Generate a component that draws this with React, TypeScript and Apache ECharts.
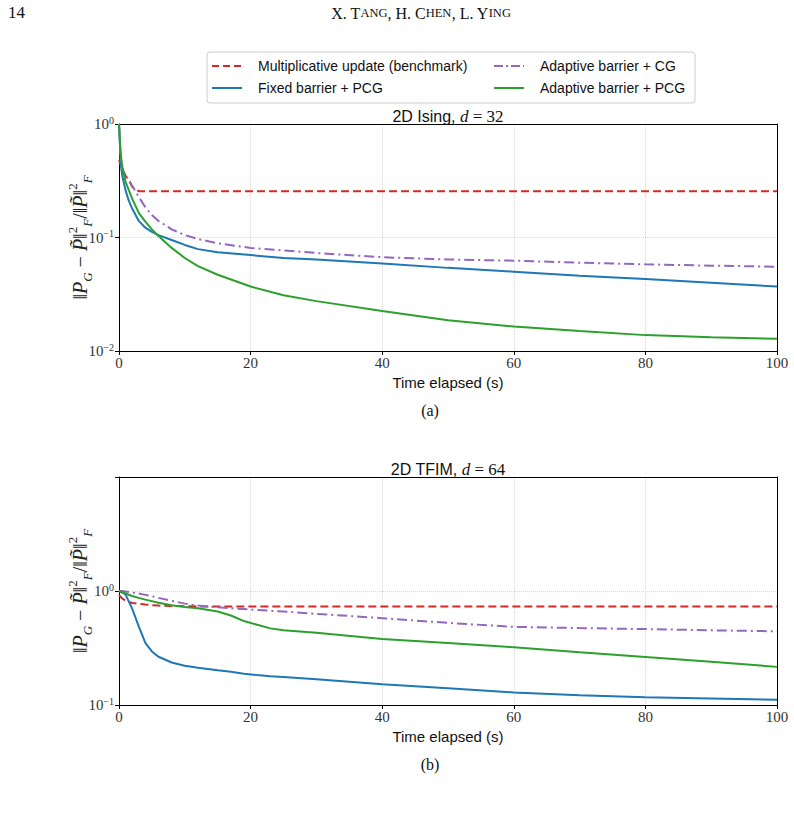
import React, { useEffect, useRef } from "react";
import * as echarts from "echarts";

const SERIF = '"Liberation Serif", "DejaVu Serif", serif';
const SANS = '"Liberation Sans", "DejaVu Sans", sans-serif';

// Series names (legend order)
const seriesNames = [
  "Multiplicative update (benchmark)",
  "Fixed barrier + PCG",
  "Adaptive barrier + CG",
  "Adaptive barrier + PCG",
];

// (a) 2D Ising, d = 32
const isingTime = [0, 0.25, 0.5, 1, 1.5, 2, 3, 4, 5, 6, 8, 10, 12, 15, 20, 25, 30, 40, 50, 60, 70, 80, 90, 100];
const isingMU = [0.48, 0.44, 0.4, 0.35, 0.32, 0.28, 0.256, 0.256, 0.256, 0.256, 0.256, 0.256, 0.256, 0.256, 0.256, 0.256, 0.256, 0.256, 0.256, 0.256, 0.256, 0.256, 0.256, 0.256];
const isingFixedPCG = [1.0, 0.45, 0.35, 0.26, 0.21, 0.18, 0.14, 0.122, 0.112, 0.105, 0.095, 0.086, 0.079, 0.074, 0.07, 0.066, 0.064, 0.059, 0.054, 0.05, 0.046, 0.043, 0.04, 0.037];
const isingAdaptiveCG = [1.0, 0.5, 0.4, 0.35, 0.32, 0.285, 0.228, 0.185, 0.158, 0.14, 0.118, 0.105, 0.097, 0.089, 0.081, 0.077, 0.073, 0.067, 0.064, 0.0625, 0.06, 0.058, 0.0565, 0.0553];
const isingAdaptivePCG = [1.0, 0.55, 0.42, 0.31, 0.26, 0.22, 0.165, 0.138, 0.118, 0.103, 0.081, 0.066, 0.056, 0.047, 0.037, 0.031, 0.0275, 0.0225, 0.0187, 0.0164, 0.015, 0.0138, 0.0132, 0.0128];

// (b) 2D TFIM, d = 64
const tfimTime = [0, 0.5, 1, 2, 3, 4, 5, 6, 8, 10, 12, 15, 17, 19, 21, 23, 25, 30, 40, 50, 60, 70, 80, 90, 100];
const tfimMU = [0.92, 0.86, 0.82, 0.785, 0.77, 0.76, 0.752, 0.745, 0.738, 0.735, 0.733, 0.733, 0.733, 0.733, 0.733, 0.733, 0.733, 0.733, 0.733, 0.733, 0.733, 0.733, 0.733, 0.733, 0.733];
const tfimFixedPCG = [1.0, 0.98, 0.93, 0.7, 0.49, 0.35, 0.295, 0.265, 0.236, 0.221, 0.212, 0.202, 0.196, 0.188, 0.183, 0.179, 0.176, 0.168, 0.152, 0.14, 0.129, 0.122, 0.117, 0.114, 0.111];
const tfimAdaptiveCG = [1.0, 1.0, 0.99, 0.97, 0.95, 0.925, 0.9, 0.87, 0.82, 0.775, 0.745, 0.72, 0.705, 0.695, 0.683, 0.67, 0.66, 0.63, 0.578, 0.525, 0.485, 0.473, 0.463, 0.452, 0.443];
const tfimAdaptivePCG = [1.0, 0.97, 0.95, 0.905, 0.87, 0.84, 0.815, 0.79, 0.75, 0.725, 0.705, 0.66, 0.61, 0.545, 0.505, 0.47, 0.452, 0.43, 0.38, 0.35, 0.321, 0.29, 0.264, 0.24, 0.216];

// Axis ticks
const xTicks = [0, 20, 40, 60, 80, 100];
const isingYRange = [0.01, 1];
const tfimYRange = [0.1, 10];

const lineColors = ["#d62728", "#1f77b4", "#9467bd", "#2ca02c"];
const lineDashes: (number[] | null)[] = [[8, 4], null, [10, 4, 2, 4], null];

const pair = (t: number[], v: number[]) => t.map((x, i) => [x, v[i]]);

const INK = "#222";
const yLabelRich = {
  n: { fontFamily: SERIF, fontSize: 20, lineHeight: 28, fill: INK },
  i: { fontFamily: SERIF, fontSize: 20, fontStyle: "italic", lineHeight: 28, fill: INK },
  sub: { fontFamily: SERIF, fontSize: 13, fontStyle: "italic", verticalAlign: "bottom", fill: INK },
  sup: { fontFamily: SERIF, fontSize: 13, verticalAlign: "top", fill: INK },
};
const yLabelText =
  "{n|‖}{i|P}{sub|G}{n| − }{i|P\u0303}{n|‖}{sup|2}{sub|F}{n|/‖}{i|P\u0303}{n|‖}{sup|2}{sub|F}";

const tickRich = {
  b: { fontFamily: SERIF, fontSize: 15, color: "#333", lineHeight: 18 },
  s: { fontFamily: SERIF, fontSize: 10, color: "#333", verticalAlign: "top" },
};
const powLabel = (v: number) => {
  const e = Math.round(Math.log10(v));
  if (e >= 1) return "";
  return `{b|10}{s|${e < 0 ? "−" + -e : e}}`;
};

const gridLine = { show: true, lineStyle: { color: "#d9d9d9", type: "dotted" as const, width: 1 } };
const frameOnly = {
  axisLine: { show: true, onZero: false, lineStyle: { color: "#000", width: 1 } },
  axisTick: { show: false },
  axisLabel: { show: false },
  splitLine: { show: false },
};

const titleRich = {
  a: { fontFamily: SANS, fontSize: 16, fontWeight: "normal", color: "#111" },
  i: { fontFamily: SERIF, fontSize: 17, fontStyle: "italic", fontWeight: "normal", color: "#111" },
  b: { fontFamily: SERIF, fontSize: 17, fontWeight: "normal", color: "#111" },
};

// One panel: a single grid with log y axis, framed on all four sides
const panelOption = (
  gridTop: number,
  gridHeight: number,
  range: number[],
  t: number[],
  values: number[][],
  titleText: string,
  caption: string,
  extraGraphics: any[]
) => ({
  animation: false,
  title: {
    text: titleText, left: 448, top: gridTop - 16, textAlign: "center", padding: 0,
    textStyle: { fontWeight: "normal", rich: titleRich },
  },
  grid: { left: 119, top: gridTop, width: 658, height: gridHeight },
  xAxis: [
    {
      type: "value",
      min: xTicks[0],
      max: xTicks[xTicks.length - 1],
      interval: 20,
      name: "Time elapsed (s)",
      nameLocation: "middle",
      nameGap: 24,
      nameTextStyle: { fontFamily: SANS, fontSize: 15, color: "#111" },
      axisLine: { onZero: false, lineStyle: { color: "#000", width: 1 } },
      axisTick: { length: 4, lineStyle: { color: "#000" } },
      axisLabel: { fontFamily: SERIF, fontSize: 15, color: "#333", margin: 4 },
      splitLine: gridLine,
    },
    { type: "value", position: "top", min: 0, max: 100, ...frameOnly },
  ],
  yAxis: [
    {
      type: "log",
      logBase: 10,
      min: range[0],
      max: range[1],
      axisLine: { onZero: false, lineStyle: { color: "#000", width: 1 } },
      axisTick: { length: 4, lineStyle: { color: "#000" } },
      axisLabel: { formatter: powLabel, rich: tickRich, margin: 5 },
      splitLine: gridLine,
    },
    { type: "log", logBase: 10, position: "right", min: range[0], max: range[1], ...frameOnly },
  ],
  series: values.map((v, k) => {
    const lineStyle: any = { color: lineColors[k], width: 2 };
    if (lineDashes[k]) lineStyle.type = lineDashes[k];
    return {
      type: "line",
      xAxisIndex: 0,
      yAxisIndex: 0,
      data: pair(t, v),
      showSymbol: false,
      symbol: "none",
      lineStyle,
    };
  }),
  graphic: [
    ...extraGraphics,
    {
      type: "text", x: 80, y: gridTop + gridHeight / 2, rotation: Math.PI / 2,
      style: { text: yLabelText, rich: yLabelRich, align: "center", verticalAlign: "middle" },
    },
    {
      type: "text", x: 430, y: gridTop + gridHeight + 59,
      style: { text: caption, font: `16px ${SERIF}`, fill: "#111", align: "center", verticalAlign: "middle" },
    },
  ],
});

// Legend layout: two columns of two entries
const legendCols = [212, 494];
const legendRows = [66, 88];

const legendGraphics = () =>
  seriesNames.flatMap((name, k) => {
    const x = legendCols[k < 2 ? 0 : 1];
    const y = legendRows[k % 2];
    const dash = lineDashes[k] ? (k === 0 ? [7, 4] : [9, 3, 2, 3]) : undefined;
    return [
      {
        type: "line",
        shape: { x1: x, y1: y, x2: x + 30, y2: y },
        style: { stroke: lineColors[k], lineWidth: 2, lineDash: dash },
      },
      {
        type: "text", x: x + 46, y,
        style: { text: name, font: `14px ${SANS}`, fill: "#111", verticalAlign: "middle" },
      },
    ];
  });

const pageHeader = [
  { type: "text", x: 8, y: 4, style: { text: "14", font: `17px ${SERIF}`, fill: "#111" } },
  {
    type: "text", x: 421, y: 13,
    style: {
      text: "{a|X. T}{s|ANG}{a|, H. C}{s|HEN}{a|, L. Y}{s|ING}",
      align: "center", verticalAlign: "middle",
      rich: {
        a: { fontFamily: SERIF, fontSize: 16, fill: "#111" },
        s: { fontFamily: SERIF, fontSize: 12.5, fill: "#111" },
      },
    },
  },
  {
    type: "rect", z: -1,
    shape: { x: 207, y: 52, width: 488, height: 51, r: 3 },
    style: { fill: "#fff", stroke: "#cccccc", lineWidth: 1 },
  },
  ...legendGraphics(),
];

function Panel({ height, option }: { height: number; option: any }) {
  const ref = useRef<HTMLDivElement>(null);
  useEffect(() => {
    if (!ref.current) return;
    const chart = echarts.init(ref.current, undefined, { renderer: "svg" });
    chart.setOption(option);
    return () => chart.dispose();
  }, []);
  return <div ref={ref} style={{ width: 794, height }} />;
}

export default function App() {
  const topOption = panelOption(
    124, 227, isingYRange, isingTime,
    [isingMU, isingFixedPCG, isingAdaptiveCG, isingAdaptivePCG],
    "{a|2D Ising, }{i|d}{b| = 32}", "(a)", pageHeader
  );
  const bottomOption = panelOption(
    37, 228, tfimYRange, tfimTime,
    [tfimMU, tfimFixedPCG, tfimAdaptiveCG, tfimAdaptivePCG],
    "{a|2D TFIM, }{i|d}{b| = 64}", "(b)", []
  );
  return (
    <div style={{ position: "absolute", left: 0, top: 0, width: 794, height: 820, background: "#fff" }}>
      <Panel height={440} option={topOption} />
      <Panel height={380} option={bottomOption} />
    </div>
  );
}
